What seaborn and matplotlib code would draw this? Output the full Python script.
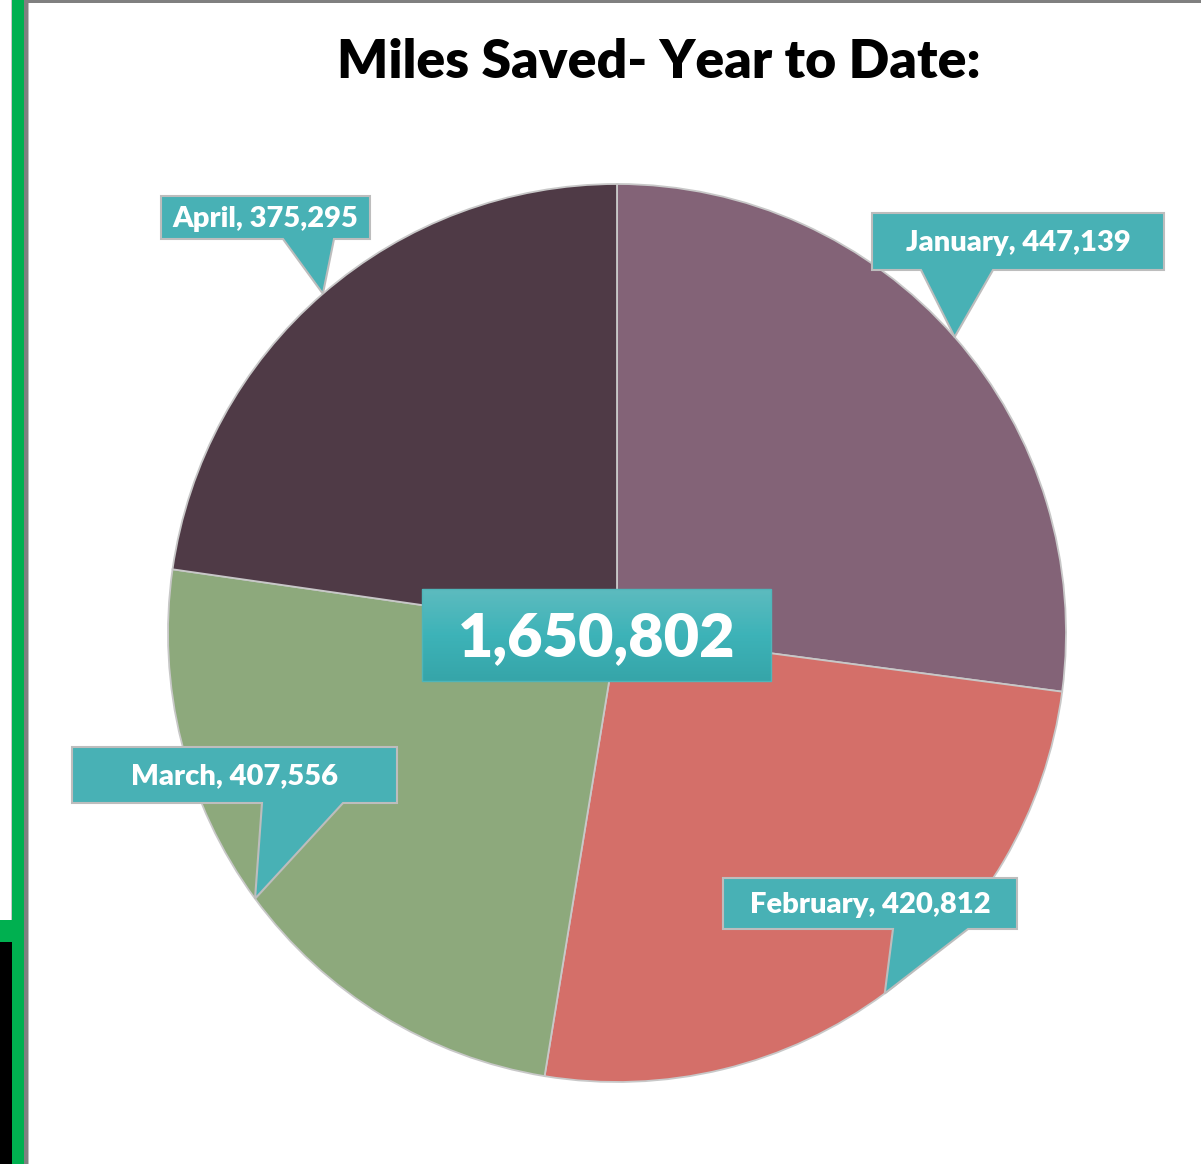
import numpy as np
import matplotlib.pyplot as plt
import seaborn as sns
from matplotlib.patches import Rectangle, Polygon
from matplotlib.colors import LinearSegmentedColormap

# --- data ---
months = ['January', 'February', 'March', 'April']
miles = [447139, 420812, 407556, 375295]
slice_colors = ['#836377', '#D46F69', '#8DA97C', '#4F3A46']
title = 'Miles Saved- Year to Date:'

sns.set_theme(style='white')
plt.rcParams['font.family'] = ['Lato', 'DejaVu Sans']

W, H = 1201, 1164
fig = plt.figure(figsize=(W / 100, H / 100), dpi=100)
ax = fig.add_axes([0, 0, 1, 1])


def Y(y):
    # image row -> data y
    return H - y


cx, cy, r = 617, Y(633), 449
wedges, _ = ax.pie(miles, colors=sns.color_palette(slice_colors), startangle=90,
                   counterclock=False, center=(cx, cy), radius=r,
                   wedgeprops=dict(edgecolor='#C8C8C8', linewidth=1.3))

teal = '#48B1B5'
edge = '#BDBDBD'
# callout boxes: (x0, y0, x1, y1, pointer base x0, x1) in image pixels
boxes = [
    (872, 213, 1164, 270, 921, 993),
    (723, 878, 1017, 929, 893, 968),
    (72, 747, 397, 803, 262, 343),
    (161, 196, 370, 239, 283, 334),
]
for w, name, val, (x0, y0, x1, y1, b0, b1) in zip(wedges, months, miles, boxes):
    mid = np.deg2rad((w.theta1 + w.theta2) / 2)
    tx, ty = cx + r * np.cos(mid), cy + r * np.sin(mid)
    pts = [(x0, Y(y0)), (x1, Y(y0)), (x1, Y(y1)), (b1, Y(y1)), (tx, ty),
           (b0, Y(y1)), (x0, Y(y1))]
    ax.add_patch(Polygon(pts, closed=True, facecolor=teal, edgecolor=edge,
                         linewidth=1.5, zorder=5))
    ax.text((x0 + x1) / 2, Y((y0 + y1) / 2 + 1), f'{name}, {val:,}', color='white',
            fontsize=21, fontweight='heavy', ha='center', va='center', zorder=6)

# total box with gradient
bx0, by0, bx1, by1 = 422, 589, 771, 681
grad = LinearSegmentedColormap.from_list('g', ['#5DBBBF', '#3DB3B8', '#36A5A9'])
ax.imshow(np.linspace(0, 1, 100).reshape(-1, 1), cmap=grad, aspect='auto',
          extent=(bx0, bx1, Y(by1), Y(by0)), zorder=7)
ax.add_patch(Rectangle((bx0, Y(by1)), bx1 - bx0, by1 - by0, fill=False,
                       edgecolor='#4FB5B9', linewidth=1, zorder=8))
ax.text((bx0 + bx1) / 2, Y(638), f'{sum(miles):,}', color='white', fontsize=44,
        fontweight='heavy', ha='center', va='center', zorder=9)

ax.text(659, Y(62), title, fontsize=38.5, fontweight='heavy', color='black',
        ha='center', va='center')

ax.set_xlim(0, W)
ax.set_ylim(0, H)
ax.set_aspect('auto')
ax.axis('off')

# screenshot frame (pixel coordinates)
frame = [
    (0, 0, 11, 920, 'white'),
    (11, 0, 1, 920, '#C8C8C8'),
    (0, 920, 12, 22, '#00B050'),
    (0, 942, 12, H - 942, 'black'),
    (12, 0, 12, H, '#00B050'),
    (24, 0, 4, H, '#808080'),
    (28, 0, 1, H, '#C0C0C0'),
    (28, 0, W - 28, 3, '#808080'),
]
for x, y, w, h, c in frame:
    fig.add_artist(Rectangle((x / W, 1 - (y + h) / H), w / W, h / H,
                             transform=fig.transFigure, facecolor=c,
                             edgecolor='none', zorder=20))

fig.savefig('out.png', dpi=100)
